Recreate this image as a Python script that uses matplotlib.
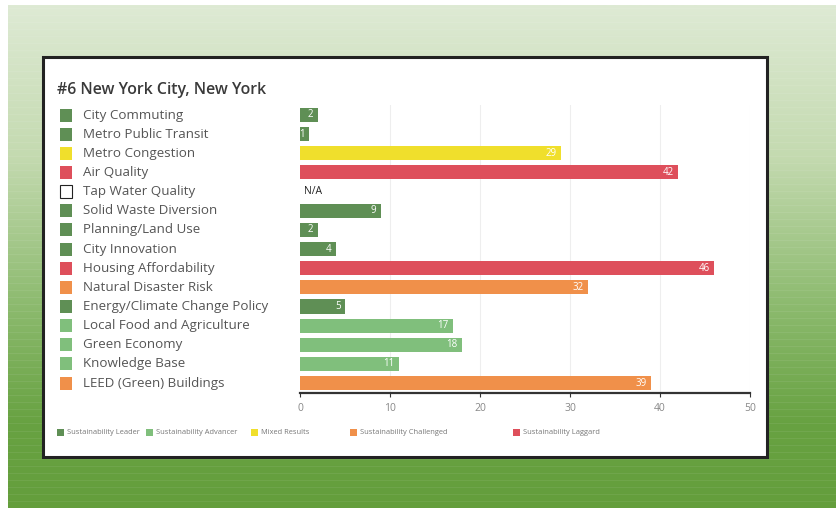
import numpy as np
import matplotlib.pyplot as plt
from matplotlib.patches import Rectangle
from matplotlib.colors import LinearSegmentedColormap

plt.rcParams['font.family'] = ['Open Sans', 'DejaVu Sans']

# Sustainability scorecard data
categories = ['City Commuting', 'Metro Public Transit', 'Metro Congestion', 'Air Quality',
              'Tap Water Quality', 'Solid Waste Diversion', 'Planning/Land Use', 'City Innovation',
              'Housing Affordability', 'Natural Disaster Risk', 'Energy/Climate Change Policy',
              'Local Food and Agriculture', 'Green Economy', 'Knowledge Base', 'LEED (Green) Buildings']
ranks = [2, 1, 29, 42, None, 9, 2, 4, 46, 32, 5, 17, 18, 11, 39]
groups = ['leader', 'leader', 'mixed', 'laggard', 'na', 'leader', 'leader', 'leader',
          'laggard', 'challenged', 'leader', 'advancer', 'advancer', 'advancer', 'challenged']

legend_keys = ['leader', 'advancer', 'mixed', 'challenged', 'laggard']
legend_labels = ['Sustainability Leader', 'Sustainability Advancer', 'Mixed Results',
                 'Sustainability Challenged', 'Sustainability Laggard']
colors = {'leader': '#5f8f55', 'advancer': '#80bf7c', 'mixed': '#f0df2c',
          'challenged': '#f0904a', 'laggard': '#de4f5b', 'na': 'white'}
x_ticks = [0, 10, 20, 30, 40, 50]

W, H = 837, 508
fig = plt.figure(figsize=(W / 100, H / 100), dpi=100)


def fx(px):
    return px / W


def fy(py):
    return 1 - py / H


# green gradient backdrop with faint horizontal stripes
bg = fig.add_axes([fx(8), 0, 1 - fx(8), fy(5)])
bg.set_axis_off()
stops = [(0.0, (222, 234, 212)), (0.3, (196, 218, 176)), (0.6, (140, 186, 110)),
         (0.83, (104, 162, 66)), (1.0, (100, 158, 60))]
cmap = LinearSegmentedColormap.from_list(
    'bg', [(p, tuple(c / 255 for c in rgb)) for p, rgb in stops])
bg.imshow(np.linspace(0, 1, 256)[:, None], aspect='auto', cmap=cmap,
          extent=[0, 1, 1, 0])
for yy in np.arange(0.006, 1, 0.014):
    bg.axhline(yy, color='white', lw=0.5, alpha=0.1)
bg.set_xlim(0, 1)
bg.set_ylim(1, 0)

# white panel with dark frame
fig.patches.append(Rectangle((fx(43), fy(457)), fx(724), 400 / H, transform=fig.transFigure,
                             facecolor='white', edgecolor='#222222', lw=2.2, zorder=2))

fig.text(fx(57), fy(90), '#6 New York City, New York', fontsize=11.4, fontweight='semibold',
         color='#3a3a3a', va='center', zorder=5)

# bar chart
ax = fig.add_axes([fx(300), fy(393), fx(450), 288 / H], zorder=3)
ax.patch.set_alpha(0)
y = np.arange(len(categories))
for i, (r, g) in enumerate(zip(ranks, groups)):
    if r is None:
        ax.text(0.5, i, 'N/A', va='center', ha='left', fontsize=7.5, color='#222222')
        continue
    ax.barh(i, r, height=0.74, color=colors[g], zorder=2)
    ax.text(r - 0.5, i, str(r), va='center', ha='right', fontsize=7, color='white', zorder=3)

ax.set_xlim(0, 50)
ax.set_ylim(14.52, -0.52)
ax.set_yticks([])
ax.set_xticks(x_ticks)
ax.tick_params(axis='x', length=3, width=0.8, color='#333333', labelsize=7.5,
               labelcolor='#888888', pad=4)
for t in x_ticks[1:]:
    ax.axvline(t, color='#eeeeee', lw=0.8, zorder=0)
for s in ['top', 'right', 'left']:
    ax.spines[s].set_visible(False)
ax.spines['bottom'].set_color('#333333')
ax.spines['bottom'].set_linewidth(1.6)

# category labels with colour keys
row_px = 115 + y * (383 - 115) / 14
for py, cat, g in zip(row_px, categories, groups):
    fig.patches.append(Rectangle((fx(60), fy(py + 6.5)), fx(12), 13 / H, transform=fig.transFigure,
                                 facecolor=colors[g], edgecolor='#222222' if g == 'na' else 'none',
                                 lw=0.8, zorder=4))
    fig.text(fx(83), fy(py), cat, fontsize=9.6, color='#555555', va='center', zorder=5)

# category legend along the bottom
leg_x = [57, 146, 251, 350, 513]
for lx, k, lab in zip(leg_x, legend_keys, legend_labels):
    fig.patches.append(Rectangle((fx(lx), fy(436)), fx(7), 7 / H, transform=fig.transFigure,
                                 facecolor=colors[k], edgecolor='none', zorder=4))
    fig.text(fx(lx + 10), fy(432.5), lab, fontsize=5.4, color='#777777', va='center', zorder=5)

fig.savefig('out.png', dpi=100)
